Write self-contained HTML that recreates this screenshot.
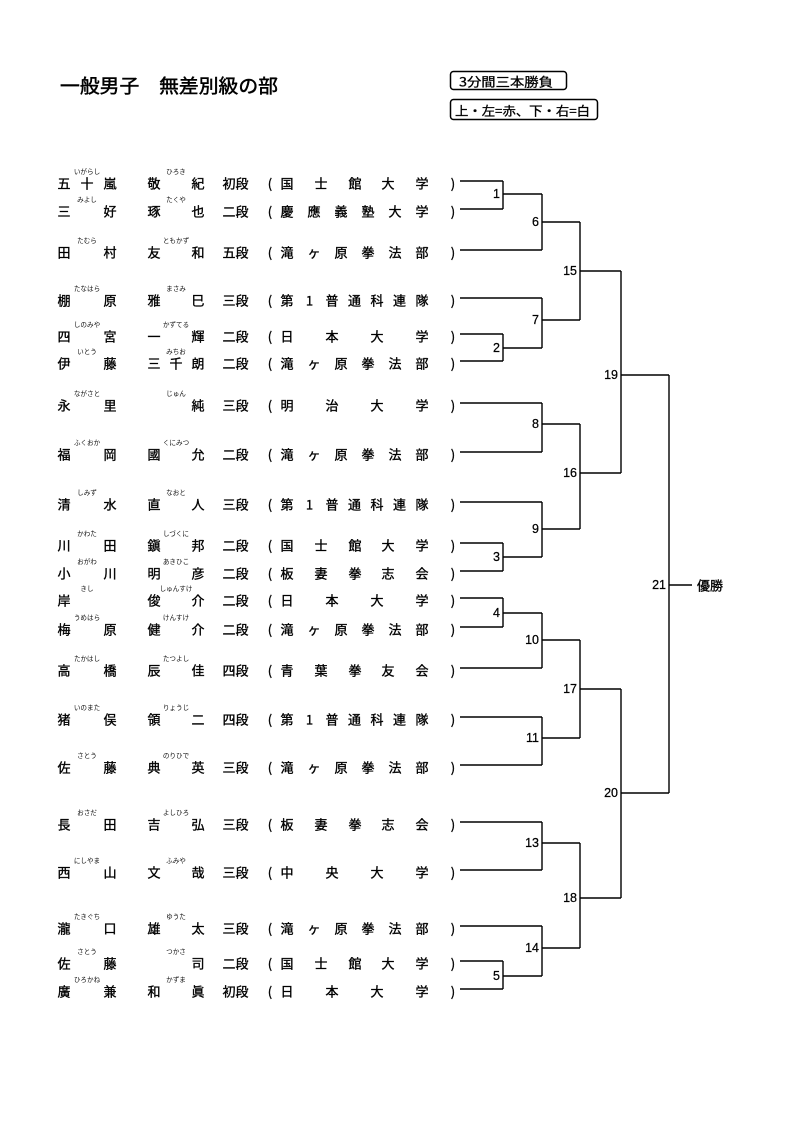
<!DOCTYPE html>
<html><head><meta charset="utf-8">
<style>
html,body{margin:0;padding:0;background:#fff;}
svg{display:block;}
.n{font-family:"Noto Sans CJK JP","Liberation Sans",sans-serif;font-size:13px;text-anchor:middle;dominant-baseline:central;fill:#000;stroke:#000;stroke-width:0.35px;}
.r{font-family:"Noto Sans CJK JP",sans-serif;font-size:6.6px;text-anchor:middle;dominant-baseline:central;fill:#111;}
.l{font-family:"Liberation Sans",sans-serif;font-size:12.5px;text-anchor:end;dominant-baseline:central;fill:#000;stroke:#000;stroke-width:0.25px;}
.t{font-family:"Noto Sans CJK JP",sans-serif;fill:#000;dominant-baseline:central;}
</style></head><body>
<svg width="800" height="1131" viewBox="0 0 800 1131" xmlns="http://www.w3.org/2000/svg">
<rect width="800" height="1131" fill="#fff"/>
<!-- header -->
<text class="t" x="60" y="85" font-size="19" textLength="218" lengthAdjust="spacingAndGlyphs" stroke="#000" stroke-width="0.5">一般男子　無差別級の部</text>
<rect x="450.5" y="71.5" width="116" height="18" rx="3" fill="none" stroke="#000" stroke-width="1.5"/>
<text class="t" x="459" y="81" font-size="12.5" textLength="94" lengthAdjust="spacingAndGlyphs" stroke="#000" stroke-width="0.3">3分間三本勝負</text>
<rect x="450.5" y="99.5" width="147" height="20" rx="3" fill="none" stroke="#000" stroke-width="1.5"/>
<text class="t" x="455" y="110" font-size="12.5" textLength="135" lengthAdjust="spacingAndGlyphs" stroke="#000" stroke-width="0.3">上・左=赤、下・右=白</text>

<!-- bracket lines -->
<path fill="none" stroke="#000" stroke-width="1.4" d="
M460 181H503 M460 209H503 M460 250H542 M460 298H542 M460 334H503 M460 361H503 M460 403H542 M460 452H542 M460 502H542 M460 543H503 M460 571H503 M460 598H503 M460 627H503 M460 668H542 M460 717H542 M460 765H542 M460 822H542 M460 870H542 M460 926H542 M460 961H503 M460 989H503
M503 181V209 M503 194H542
M503 334V361 M503 348H542
M503 543V571 M503 557H542
M503 598V627 M503 613H542
M503 961V989 M503 976H542
M542 194V250 M542 222H580
M542 298V348 M542 320H580
M542 403V452 M542 424H580
M542 502V557 M542 529H580
M542 613V668 M542 640H580
M542 717V765 M542 738H580
M542 822V870 M542 843H580
M542 926V976 M542 948H580
M580 222V320 M580 271H621
M580 424V529 M580 473H621
M580 640V738 M580 689H621
M580 843V948 M580 898H621
M621 271V473 M621 375H669
M621 689V898 M621 793H669
M669 375V793 M669 585H692"/>

<!-- match labels -->
<text class="l" x="500" y="194">1</text>
<text class="l" x="500" y="348">2</text>
<text class="l" x="500" y="557">3</text>
<text class="l" x="500" y="613">4</text>
<text class="l" x="500" y="976">5</text>
<text class="l" x="539" y="222">6</text>
<text class="l" x="539" y="320">7</text>
<text class="l" x="539" y="424">8</text>
<text class="l" x="539" y="529">9</text>
<text class="l" x="539" y="640">10</text>
<text class="l" x="539" y="738">11</text>
<text class="l" x="539" y="843">13</text>
<text class="l" x="539" y="948">14</text>
<text class="l" x="577" y="271">15</text>
<text class="l" x="577" y="473">16</text>
<text class="l" x="577" y="689">17</text>
<text class="l" x="577" y="898">18</text>
<text class="l" x="618" y="375">19</text>
<text class="l" x="618" y="793">20</text>
<text class="l" x="666" y="585">21</text>
<text class="t" x="697" y="585" font-size="13" stroke="#000" stroke-width="0.35">優勝</text>

<!-- rows -->
<!-- 1 -->
<text class="n" y="182.5"><tspan x="64">五</tspan><tspan x="87">十</tspan><tspan x="110">嵐</tspan><tspan x="154">敬</tspan><tspan x="198">紀</tspan><tspan x="229">初</tspan><tspan x="242">段</tspan><tspan x="270">(</tspan><tspan x="287">国</tspan><tspan x="321">士</tspan><tspan x="355">館</tspan><tspan x="388">大</tspan><tspan x="422">学</tspan><tspan x="453">)</tspan></text>
<text class="r" y="171"><tspan x="87">いがらし</tspan><tspan x="176">ひろき</tspan></text>
<!-- 2 -->
<text class="n" y="210.5"><tspan x="64">三</tspan><tspan x="110">好</tspan><tspan x="154">琢</tspan><tspan x="198">也</tspan><tspan x="229">二</tspan><tspan x="242">段</tspan><tspan x="270">(</tspan><tspan x="287">慶</tspan><tspan x="314">應</tspan><tspan x="341">義</tspan><tspan x="368">塾</tspan><tspan x="395">大</tspan><tspan x="422">学</tspan><tspan x="453">)</tspan></text>
<text class="r" y="199"><tspan x="87">みよし</tspan><tspan x="176">たくや</tspan></text>
<!-- 3 -->
<text class="n" y="251.5"><tspan x="64">田</tspan><tspan x="110">村</tspan><tspan x="154">友</tspan><tspan x="198">和</tspan><tspan x="229">五</tspan><tspan x="242">段</tspan><tspan x="270">(</tspan><tspan x="287">滝</tspan><tspan x="314">ヶ</tspan><tspan x="341">原</tspan><tspan x="368">拳</tspan><tspan x="395">法</tspan><tspan x="422">部</tspan><tspan x="453">)</tspan></text>
<text class="r" y="240"><tspan x="87">たむら</tspan><tspan x="176">ともかず</tspan></text>
<!-- 4 -->
<text class="n" y="299.5"><tspan x="64">棚</tspan><tspan x="110">原</tspan><tspan x="154">雅</tspan><tspan x="198">巳</tspan><tspan x="229">三</tspan><tspan x="242">段</tspan><tspan x="270">(</tspan><tspan x="287">第</tspan><tspan x="309.5">1</tspan><tspan x="332">普</tspan><tspan x="354.5">通</tspan><tspan x="377">科</tspan><tspan x="399.5">連</tspan><tspan x="422">隊</tspan><tspan x="453">)</tspan></text>
<text class="r" y="288"><tspan x="87">たなはら</tspan><tspan x="176">まさみ</tspan></text>
<!-- 5 -->
<text class="n" y="335.5"><tspan x="64">四</tspan><tspan x="110">宮</tspan><tspan x="154">一</tspan><tspan x="198">輝</tspan><tspan x="229">二</tspan><tspan x="242">段</tspan><tspan x="270">(</tspan><tspan x="287">日</tspan><tspan x="332">本</tspan><tspan x="377">大</tspan><tspan x="422">学</tspan><tspan x="453">)</tspan></text>
<text class="r" y="324"><tspan x="87">しのみや</tspan><tspan x="176">かずてる</tspan></text>
<!-- 6 -->
<text class="n" y="362.5"><tspan x="64">伊</tspan><tspan x="110">藤</tspan><tspan x="154">三</tspan><tspan x="176">千</tspan><tspan x="198">朗</tspan><tspan x="229">二</tspan><tspan x="242">段</tspan><tspan x="270">(</tspan><tspan x="287">滝</tspan><tspan x="314">ヶ</tspan><tspan x="341">原</tspan><tspan x="368">拳</tspan><tspan x="395">法</tspan><tspan x="422">部</tspan><tspan x="453">)</tspan></text>
<text class="r" y="351"><tspan x="87">いとう</tspan><tspan x="176">みちお</tspan></text>
<!-- 7 -->
<text class="n" y="404.5"><tspan x="64">永</tspan><tspan x="110">里</tspan><tspan x="198">純</tspan><tspan x="229">三</tspan><tspan x="242">段</tspan><tspan x="270">(</tspan><tspan x="287">明</tspan><tspan x="332">治</tspan><tspan x="377">大</tspan><tspan x="422">学</tspan><tspan x="453">)</tspan></text>
<text class="r" y="393"><tspan x="87">ながさと</tspan><tspan x="176">じゅん</tspan></text>
<!-- 8 -->
<text class="n" y="453.5"><tspan x="64">福</tspan><tspan x="110">岡</tspan><tspan x="154">國</tspan><tspan x="198">允</tspan><tspan x="229">二</tspan><tspan x="242">段</tspan><tspan x="270">(</tspan><tspan x="287">滝</tspan><tspan x="314">ヶ</tspan><tspan x="341">原</tspan><tspan x="368">拳</tspan><tspan x="395">法</tspan><tspan x="422">部</tspan><tspan x="453">)</tspan></text>
<text class="r" y="442"><tspan x="87">ふくおか</tspan><tspan x="176">くにみつ</tspan></text>
<!-- 9 -->
<text class="n" y="503.5"><tspan x="64">清</tspan><tspan x="110">水</tspan><tspan x="154">直</tspan><tspan x="198">人</tspan><tspan x="229">三</tspan><tspan x="242">段</tspan><tspan x="270">(</tspan><tspan x="287">第</tspan><tspan x="309.5">1</tspan><tspan x="332">普</tspan><tspan x="354.5">通</tspan><tspan x="377">科</tspan><tspan x="399.5">連</tspan><tspan x="422">隊</tspan><tspan x="453">)</tspan></text>
<text class="r" y="492"><tspan x="87">しみず</tspan><tspan x="176">なおと</tspan></text>
<!-- 10 -->
<text class="n" y="544.5"><tspan x="64">川</tspan><tspan x="110">田</tspan><tspan x="154">鎭</tspan><tspan x="198">邦</tspan><tspan x="229">二</tspan><tspan x="242">段</tspan><tspan x="270">(</tspan><tspan x="287">国</tspan><tspan x="321">士</tspan><tspan x="355">館</tspan><tspan x="388">大</tspan><tspan x="422">学</tspan><tspan x="453">)</tspan></text>
<text class="r" y="533"><tspan x="87">かわた</tspan><tspan x="176">しづくに</tspan></text>
<!-- 11 -->
<text class="n" y="572.5"><tspan x="64">小</tspan><tspan x="110">川</tspan><tspan x="154">明</tspan><tspan x="198">彦</tspan><tspan x="229">二</tspan><tspan x="242">段</tspan><tspan x="270">(</tspan><tspan x="287">板</tspan><tspan x="321">妻</tspan><tspan x="355">拳</tspan><tspan x="388">志</tspan><tspan x="422">会</tspan><tspan x="453">)</tspan></text>
<text class="r" y="561"><tspan x="87">おがわ</tspan><tspan x="176">あきひこ</tspan></text>
<!-- 12 -->
<text class="n" y="599.5"><tspan x="64">岸</tspan><tspan x="154">俊</tspan><tspan x="198">介</tspan><tspan x="229">二</tspan><tspan x="242">段</tspan><tspan x="270">(</tspan><tspan x="287">日</tspan><tspan x="332">本</tspan><tspan x="377">大</tspan><tspan x="422">学</tspan><tspan x="453">)</tspan></text>
<text class="r" y="588"><tspan x="87">きし</tspan><tspan x="176">しゅんすけ</tspan></text>
<!-- 13 -->
<text class="n" y="628.5"><tspan x="64">梅</tspan><tspan x="110">原</tspan><tspan x="154">健</tspan><tspan x="198">介</tspan><tspan x="229">二</tspan><tspan x="242">段</tspan><tspan x="270">(</tspan><tspan x="287">滝</tspan><tspan x="314">ヶ</tspan><tspan x="341">原</tspan><tspan x="368">拳</tspan><tspan x="395">法</tspan><tspan x="422">部</tspan><tspan x="453">)</tspan></text>
<text class="r" y="617"><tspan x="87">うめはら</tspan><tspan x="176">けんすけ</tspan></text>
<!-- 14 -->
<text class="n" y="669.5"><tspan x="64">高</tspan><tspan x="110">橋</tspan><tspan x="154">辰</tspan><tspan x="198">佳</tspan><tspan x="229">四</tspan><tspan x="242">段</tspan><tspan x="270">(</tspan><tspan x="287">青</tspan><tspan x="321">葉</tspan><tspan x="355">拳</tspan><tspan x="388">友</tspan><tspan x="422">会</tspan><tspan x="453">)</tspan></text>
<text class="r" y="658"><tspan x="87">たかはし</tspan><tspan x="176">たつよし</tspan></text>
<!-- 15 -->
<text class="n" y="718.5"><tspan x="64">猪</tspan><tspan x="110">俣</tspan><tspan x="154">領</tspan><tspan x="198">二</tspan><tspan x="229">四</tspan><tspan x="242">段</tspan><tspan x="270">(</tspan><tspan x="287">第</tspan><tspan x="309.5">1</tspan><tspan x="332">普</tspan><tspan x="354.5">通</tspan><tspan x="377">科</tspan><tspan x="399.5">連</tspan><tspan x="422">隊</tspan><tspan x="453">)</tspan></text>
<text class="r" y="707"><tspan x="87">いのまた</tspan><tspan x="176">りょうじ</tspan></text>
<!-- 16 -->
<text class="n" y="766.5"><tspan x="64">佐</tspan><tspan x="110">藤</tspan><tspan x="154">典</tspan><tspan x="198">英</tspan><tspan x="229">三</tspan><tspan x="242">段</tspan><tspan x="270">(</tspan><tspan x="287">滝</tspan><tspan x="314">ヶ</tspan><tspan x="341">原</tspan><tspan x="368">拳</tspan><tspan x="395">法</tspan><tspan x="422">部</tspan><tspan x="453">)</tspan></text>
<text class="r" y="755"><tspan x="87">さとう</tspan><tspan x="176">のりひで</tspan></text>
<!-- 17 -->
<text class="n" y="823.5"><tspan x="64">長</tspan><tspan x="110">田</tspan><tspan x="154">吉</tspan><tspan x="198">弘</tspan><tspan x="229">三</tspan><tspan x="242">段</tspan><tspan x="270">(</tspan><tspan x="287">板</tspan><tspan x="321">妻</tspan><tspan x="355">拳</tspan><tspan x="388">志</tspan><tspan x="422">会</tspan><tspan x="453">)</tspan></text>
<text class="r" y="812"><tspan x="87">おさだ</tspan><tspan x="176">よしひろ</tspan></text>
<!-- 18 -->
<text class="n" y="871.5"><tspan x="64">西</tspan><tspan x="110">山</tspan><tspan x="154">文</tspan><tspan x="198">哉</tspan><tspan x="229">三</tspan><tspan x="242">段</tspan><tspan x="270">(</tspan><tspan x="287">中</tspan><tspan x="332">央</tspan><tspan x="377">大</tspan><tspan x="422">学</tspan><tspan x="453">)</tspan></text>
<text class="r" y="860"><tspan x="87">にしやま</tspan><tspan x="176">ふみや</tspan></text>
<!-- 19 -->
<text class="n" y="927.5"><tspan x="64">瀧</tspan><tspan x="110">口</tspan><tspan x="154">雄</tspan><tspan x="198">太</tspan><tspan x="229">三</tspan><tspan x="242">段</tspan><tspan x="270">(</tspan><tspan x="287">滝</tspan><tspan x="314">ヶ</tspan><tspan x="341">原</tspan><tspan x="368">拳</tspan><tspan x="395">法</tspan><tspan x="422">部</tspan><tspan x="453">)</tspan></text>
<text class="r" y="916"><tspan x="87">たきぐち</tspan><tspan x="176">ゆうた</tspan></text>
<!-- 20 -->
<text class="n" y="962.5"><tspan x="64">佐</tspan><tspan x="110">藤</tspan><tspan x="198">司</tspan><tspan x="229">二</tspan><tspan x="242">段</tspan><tspan x="270">(</tspan><tspan x="287">国</tspan><tspan x="321">士</tspan><tspan x="355">館</tspan><tspan x="388">大</tspan><tspan x="422">学</tspan><tspan x="453">)</tspan></text>
<text class="r" y="951"><tspan x="87">さとう</tspan><tspan x="176">つかさ</tspan></text>
<!-- 21 -->
<text class="n" y="990.5"><tspan x="64">廣</tspan><tspan x="110">兼</tspan><tspan x="154">和</tspan><tspan x="198">眞</tspan><tspan x="229">初</tspan><tspan x="242">段</tspan><tspan x="270">(</tspan><tspan x="287">日</tspan><tspan x="332">本</tspan><tspan x="377">大</tspan><tspan x="422">学</tspan><tspan x="453">)</tspan></text>
<text class="r" y="979"><tspan x="87">ひろかね</tspan><tspan x="176">かずま</tspan></text>
</svg>
</body></html>
